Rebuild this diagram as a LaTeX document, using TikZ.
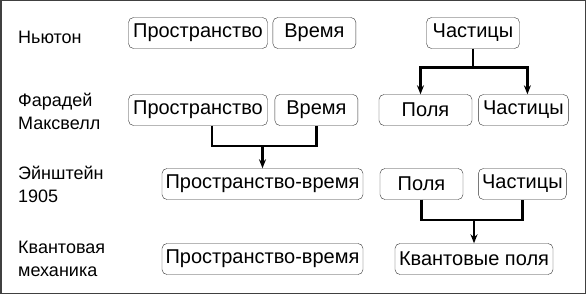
\documentclass[tikz,border=0pt]{standalone}
\usepackage{fontspec}
\setmainfont{Liberation Sans}
\usetikzlibrary{arrows.meta,positioning}

\begin{document}
\begin{tikzpicture}[
  x=1pt,y=-1pt,
  bx/.style={draw=black!80,rounded corners=5pt,minimum height=31pt,
             inner sep=2pt,font=\fontsize{20}{22}\selectfont},
  er/.style={anchor=west,align=left,inner sep=0pt,
             font=\fontsize{18}{23}\selectfont},
  ln/.style={line width=2.8pt},
  ar/.style={ln,-{Stealth[length=9pt,width=7pt]}},
]
% ============ frame ============
\draw[black!75,line width=1.5pt] (0.75,0.75) rectangle (585.25,293.25);
\useasboundingbox (0,0) rectangle (586,294);
% ============ eras ============
\node[er] (newton) at (18,37) {Ньютон};
\node[er] (faraday) at (18,111) {Фарадей\\Максвелл};
\node[er] (einst) at (18,184) {Эйнштейн\\1905};
\node[er] (quant) at (18,259) {Квантовая\\механика};
% ============ Newton ============
\node[bx,minimum width=139pt] (sp1) at (198,33) {Пространство};
\node[bx,minimum width=83pt,right=5pt of sp1] (tm1) {Время};
\node[bx,minimum width=93pt] (pt1) at (473,33) {Частицы};
% ============ Faraday, Maxwell ============
\node[bx,minimum width=139pt] (sp2) at (198,110) {Пространство};
\node[bx,minimum width=83pt,right=7pt of sp2] (tm2) {Время};
\node[bx,minimum width=93pt] (fd2) at (425.5,110) {Поля};
\node[bx,minimum width=90pt,right=6pt of fd2] (pt2) {Частицы};
\draw[ln] (pt1.south) -- ++(0,19) coordinate (j1);
\draw[ar] (j1) -| ([xshift=-5pt]fd2.north);
\draw[ar] (j1) -| ([xshift=4pt]pt2.north);
% ============ Einstein 1905 ============
\node[bx,minimum width=201pt] (st3) at (262.5,184) {Пространство-время};
\node[bx,minimum width=83pt] (fd3) at (421.5,184) {Поля};
\node[bx,minimum width=88pt,right=15pt of fd3] (pt3) {Частицы};
\draw[ln] ([xshift=14pt]sp2.south) |- (tm2.south|-0,146) coordinate (j2)
  -- (tm2.south);
\draw[ar] (st3.north|-j2) -- (st3.north);
% ============ quantum mechanics ============
\node[bx,minimum width=201pt] (st4) at (262.5,259) {Пространство-время};
\node[bx,minimum width=158pt] (qf4) at (474,259) {Квантовые поля};
\draw[ln] (fd3.south) |- (pt3.south|-0,220) coordinate (j3) -- (pt3.south);
\draw[ar] (qf4.north|-j3) -- (qf4.north);
\end{tikzpicture}
\end{document}
